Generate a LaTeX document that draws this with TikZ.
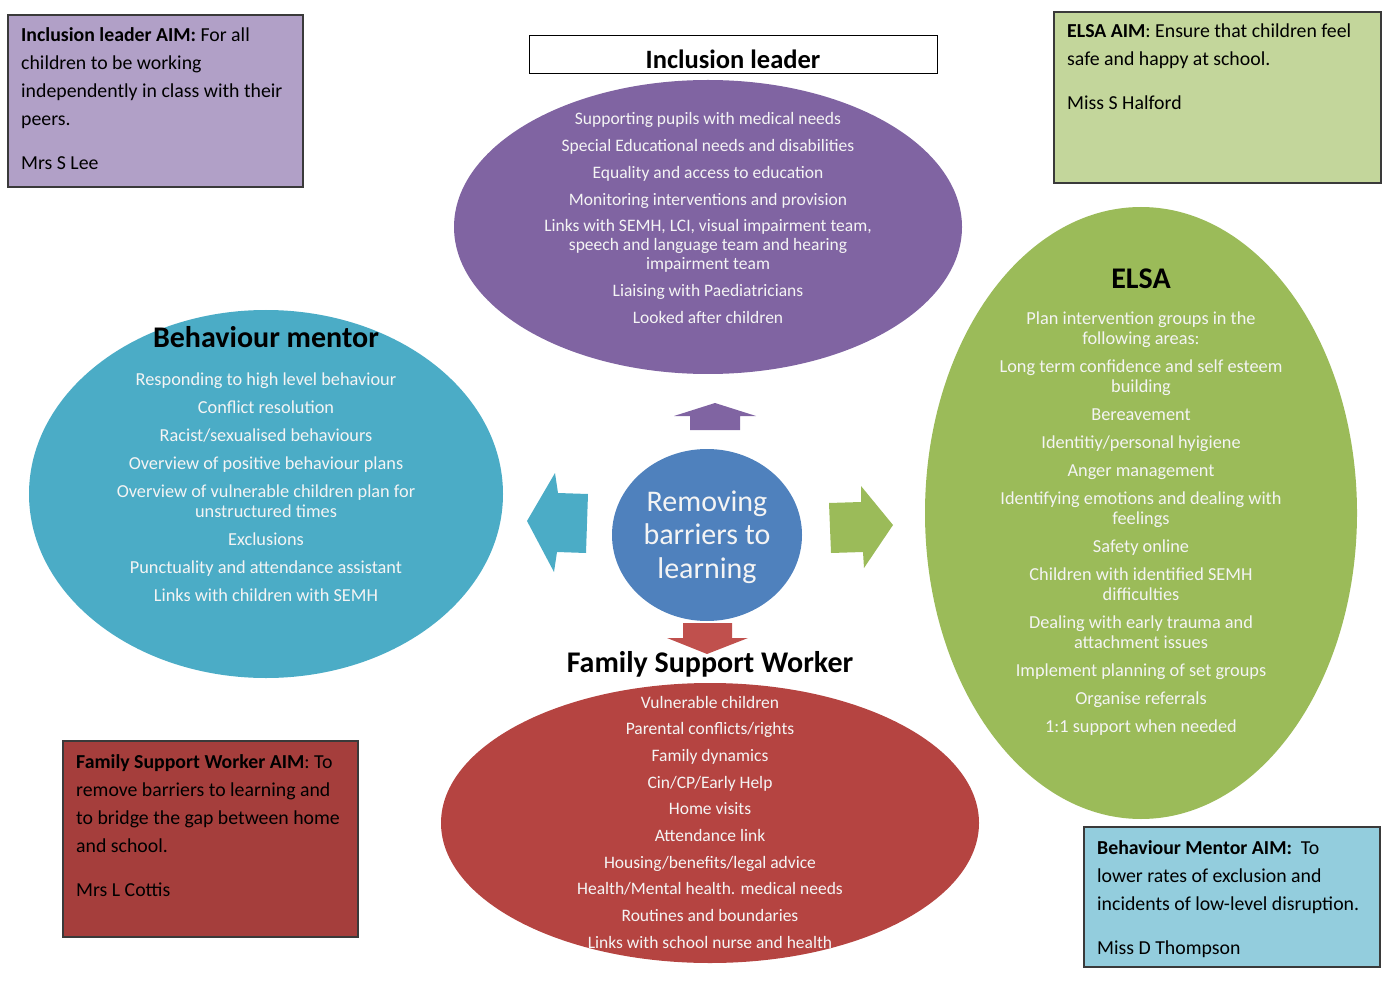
\documentclass[tikz,border=0pt]{standalone}
\usepackage{fontspec}
\setmainfont{Carlito}
\usetikzlibrary{shapes.geometric}
\definecolor{boxpurple}{HTML}{B1A0C7}
\definecolor{boxgreen}{HTML}{C3D69B}
\definecolor{boxred}{HTML}{A53E3C}
\definecolor{boxblue}{HTML}{93CDDD}
\definecolor{elpurple}{HTML}{8064A2}
\definecolor{elcyan}{HTML}{4BACC6}
\definecolor{elgreen}{HTML}{9BBB59}
\definecolor{elred}{HTML}{B54441}
\definecolor{elblue}{HTML}{4F81BD}
\definecolor{arred}{HTML}{C0504D}
\definecolor{lighttext}{HTML}{F4F4F4}
\definecolor{boxedge}{HTML}{3A3A3A}
\newcommand{\tlinesL}[1]{\begin{tabular}[t]{@{}l@{}}#1\end{tabular}}
\newcommand{\tlinesC}[1]{\begin{tabular}[t]{@{}c@{}}#1\end{tabular}}
\tikzset{
  aimbox/.style={draw=boxedge, line width=1.3pt, rectangle, inner sep=0pt},
  aimtext/.style={anchor=base west, inner sep=0pt, text=black,
    font=\fontsize{19.8}{28}\selectfont},
  blob/.style={ellipse, inner sep=0pt, draw=none},
  itemsA/.style={anchor=base, inner sep=0pt, text=lighttext,
    font=\fontsize{17.5}{19}\selectfont},
  itemsB/.style={anchor=base, inner sep=0pt, text=lighttext,
    font=\fontsize{18.3}{20}\selectfont},
  title/.style={anchor=base, inner sep=0pt, text=black, font=\bfseries\fontsize{30}{32}\selectfont},
}
\begin{document}
\begin{tikzpicture}[x=1pt,y=-1pt]
\useasboundingbox (0,0) rectangle (1389,981);

% AIM boxes
\node[aimbox, fill=boxpurple, minimum width=295pt, minimum height=172pt] (aimIL) at (155.5,101) {};
\node[aimtext] (aimILt) at (21,42) {\tlinesL{\textbf{Inclusion leader AIM:} For all\\children to be working\\independently in class with their\\peers.\\[16pt]Mrs S Lee}};

\node[aimbox, fill=boxgreen, minimum width=327pt, minimum height=171pt] (aimEL) at (1217.5,97.5) {};
\node[aimtext] (aimELt) at (1067,38) {\tlinesL{\textbf{ELSA AIM}: Ensure that children feel\\safe and happy at school.\\[16pt]Miss S Halford}};

\node[aimbox, fill=boxred, minimum width=295pt, minimum height=196pt] (aimFS) at (210.5,839) {};
\node[aimtext] (aimFSt) at (76,768) {\tlinesL{\textbf{Family Support Worker AIM}: To\\remove barriers to learning and\\to bridge the gap between home\\and school.\\[16pt]Mrs L Cottis}};

\node[aimbox, fill=boxblue, minimum width=296pt, minimum height=140pt] (aimBM) at (1232,897) {};
\node[aimtext] (aimBMt) at (1097,854) {\tlinesL{\textbf{Behaviour Mentor AIM:}\ \ To\\lower rates of exclusion and\\incidents of low-level disruption.\\[16pt]Miss D Thompson}};

% header box
\node[draw=black, line width=0.8pt, rectangle, inner sep=0pt, fill=white,
  minimum width=408pt, minimum height=38pt] (ilhead) at (733,54) {};
\node[anchor=base, inner sep=0pt, font=\bfseries\fontsize{26.5}{28}\selectfont] (ilheadt) at (733,68.5) {Inclusion leader};

% ellipses
\node[blob, fill=elpurple, minimum width=508pt, minimum height=294pt] (incl) at (708,227) {};
\node[blob, fill=elcyan, minimum width=474pt, minimum height=368pt] (beh) at (266,494) {};
\node[blob, fill=elgreen, minimum width=432pt, minimum height=612pt] (elsa) at (1141,513) {};
\node[blob, fill=elred, minimum width=538pt, minimum height=280pt] (fsw) at (710,823) {};
\node[blob, fill=elblue, minimum width=190pt, minimum height=172pt] (core) at (707,535) {};

% block arrows
\fill[elpurple] (690,430) -- (690,416) -- (674,416) -- (715,403) -- (756,416) -- (740,416) -- (740,430) -- cycle;
\fill[elcyan] (527,521) -- (555,473) -- (558,493) -- (588,494) -- (586,553) -- (557,552) -- (554,572) -- cycle;
\fill[elgreen] (829,503) -- (861,502) -- (861,486) -- (893,525) -- (864,568) -- (863,552) -- (831,553) -- cycle;
\fill[arred] (683,623) -- (732,623) -- (732,638) -- (748,638) -- (707,654) -- (667,638) -- (683,638) -- cycle;

% centre text
\node[anchor=base, inner sep=0pt, text=lighttext, font=\fontsize{30}{33.5}\selectfont] (coret) at (707,511) {\tlinesC{Removing\\barriers to\\learning}};

% inclusion leader items
\node[itemsA] (inclt) at (708,125) {\tlinesC{Supporting pupils with medical needs\\[7.7pt]
Special Educational needs and disabilities\\[7.7pt]
Equality and access to education\\[7.7pt]
Monitoring interventions and provision\\[7.7pt]
Links with SEMH, LCI, visual impairment team,\\speech and language team and hearing\\impairment team\\[7.7pt]
Liaising with Paediatricians\\[7.7pt]
Looked after children}};

% behaviour mentor
\node[title] (beht) at (266,348) {Behaviour mentor};
\node[itemsB] (behi) at (266,385) {\tlinesC{Responding to high level behaviour\\[8pt]
Conflict resolution\\[8pt]
Racist/sexualised behaviours\\[8pt]
Overview of positive behaviour plans\\[8pt]
Overview of vulnerable children plan for\\unstructured times\\[8pt]
Exclusions\\[8pt]
Punctuality and attendance assistant\\[8pt]
Links with children with SEMH}};

% ELSA
\node[title] (elsat) at (1141,289) {ELSA};
\node[itemsB] (elsai) at (1141,325) {\tlinesC{Plan intervention groups in the\\following areas:\\[8pt]
Long term confidence and self esteem\\building\\[8pt]
Bereavement\\[8pt]
Identitiy/personal hyigiene\\[8pt]
Anger management\\[8pt]
Identifying emotions and dealing with\\feelings\\[8pt]
Safety online\\[8pt]
Children with identified SEMH\\difficulties\\[8pt]
Dealing with early trauma and\\attachment issues\\[8pt]
Implement planning of set groups\\[8pt]
Organise referrals\\[8pt]
1:1 support when needed}};

% family support worker
\node[title] (fswt) at (710,672) {Family Support Worker};
\node[itemsA] (fswi) at (710,708) {\tlinesC{Vulnerable children\\[7.7pt]
Parental conflicts/rights\\[7.7pt]
Family dynamics\\[7.7pt]
Cin/CP/Early Help\\[7.7pt]
Home visits\\[7.7pt]
Attendance link\\[7.7pt]
Housing/benefits/legal advice\\[7.7pt]
Health/Mental health. medical needs\\[7.7pt]
Routines and boundaries\\[7.7pt]
Links with school nurse and health}};
\end{tikzpicture}
\end{document}
